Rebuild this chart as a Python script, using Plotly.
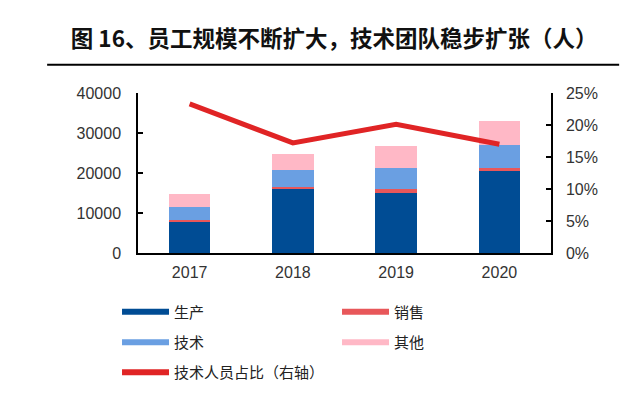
import plotly.graph_objects as go

years = ["2017", "2018", "2019", "2020"]
production = [7800, 15900, 15100, 20600]
sales = [400, 500, 800, 700]
tech = [3400, 4300, 5300, 5800]
other = [3200, 4000, 5550, 5800]
tech_share = [0.233, 0.172, 0.201, 0.170]

names = ["生产", "销售", "技术", "其他"]
colors = ["#004c94", "#e8575a", "#6a9fe2", "#ffb8c6"]
line_name = "技术人员占比（右轴）"
line_color = "#e02425"

fig = go.Figure()
for vals, nm, c in zip([production, sales, tech, other], names, colors):
    fig.add_trace(go.Bar(x=years, y=vals, name=nm, marker=dict(color=c, line=dict(width=0)),
                         width=0.4, showlegend=False, yaxis="y"))
fig.add_trace(go.Scatter(x=years, y=tech_share, name=line_name, mode="lines",
                         line=dict(color=line_color, width=5), yaxis="y2", showlegend=False))

# legend entries (line-style keys as in reference), one legend box per entry
legend_ids = ["legend", "legend2", "legend3", "legend4"]
for nm, c, lid in zip(names, colors, legend_ids):
    fig.add_trace(go.Scatter(x=[None], y=[None], mode="lines", name=nm,
                             line=dict(color=c, width=6), legend=lid))
fig.add_trace(go.Scatter(x=[None], y=[None], mode="lines", name=line_name,
                         line=dict(color=line_color, width=6), legend="legend5"))

tickfont = dict(family="Liberation Sans, Arial", size=16, color="#333333")
legfont = dict(family="Noto Sans CJK SC", size=15, color="#222222")
common_leg = dict(xref="container", yref="container", itemwidth=47,
                  xanchor="left", yanchor="middle", font=legfont,
                  bgcolor="rgba(0,0,0,0)")

col1, col2 = 0.1725, 0.5206
row1, row2, row3 = 0.2124, 0.1334, 0.0557

fig.update_layout(
    width=632, height=386,
    margin=dict(l=130, r=89, t=85, b=141, autoexpand=False),
    paper_bgcolor="white", plot_bgcolor="white",
    barmode="stack", bargap=0.6,
    title=dict(text="<b>图 16、员工规模不断扩大，技术团队稳步扩张（人）</b>",
               x=0.516, xanchor="center", xref="container", yref="container",
               y=0.92, yanchor="middle",
               font=dict(family="Noto Sans CJK SC", size=22.5, color="#111111")),
    xaxis=dict(showline=True, linecolor="black", linewidth=1.5, ticks="",
               tickfont=tickfont, showgrid=False, ticklabelstandoff=4),
    yaxis=dict(range=[0, 40000], dtick=10000, tickformat="d", showline=True, linecolor="black",
               linewidth=1.5, ticks="inside", ticklen=5, tickcolor="black", tickwidth=1.5,
               tickfont=tickfont, showgrid=False, zeroline=False, ticklabelstandoff=12),
    yaxis2=dict(range=[0, 0.25], dtick=0.05, tickformat=".0%", overlaying="y",
                side="right", showline=True, linecolor="black", linewidth=1.5,
                ticks="inside", ticklen=5, tickcolor="black", tickwidth=1.5, tickfont=tickfont,
                showgrid=False, zeroline=False, ticklabelstandoff=10),
    legend=dict(x=col1, y=row1, **common_leg),
    legend2=dict(x=col2, y=row1, **common_leg),
    legend3=dict(x=col1, y=row2, **common_leg),
    legend4=dict(x=col2, y=row2, **common_leg),
    legend5=dict(x=col1, y=row3, **common_leg),
    shapes=[dict(type="line", xref="paper", yref="paper", x0=-0.22, x1=1.165,
                 y0=1.177, y1=1.177, line=dict(color="black", width=2))],
)

fig.write_html("out.html")
